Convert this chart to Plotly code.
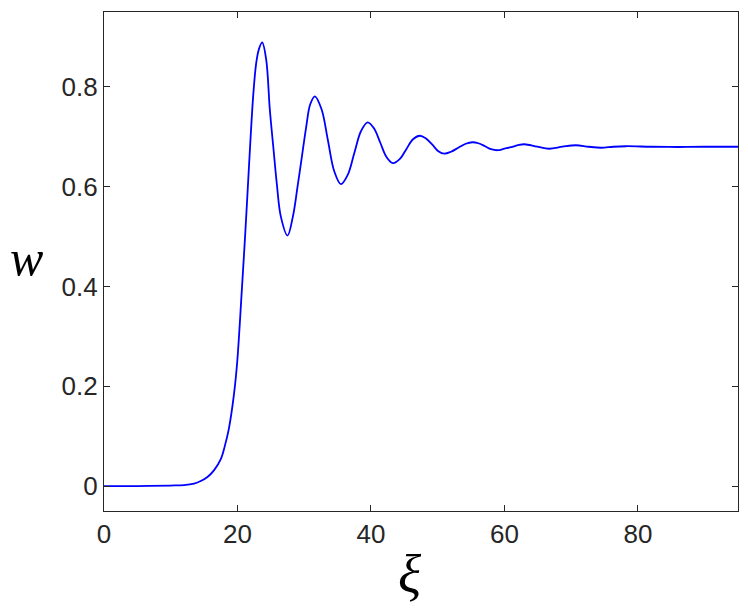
import plotly.graph_objects as go

# values
xi = [0, 5, 10, 12, 13.5, 14.5, 15.5, 16.5, 17.5, 18.1, 18.7, 19.45, 19.95,
      20.6, 21.2, 21.75, 22.35, 22.8, 23.2, 23.7, 24.3, 24.85, 25.4, 25.9,
      26.5, 27.5, 28.3, 29.0, 29.6, 30.3, 30.9, 31.6, 32.6, 33.55, 34.5, 35.5,
      36.5, 37.5, 38.5, 39.5, 40.45, 41.4, 42.35, 43.3, 44.3, 45.3, 46.3, 47.3,
      48.2, 49.2, 50.1, 51.0, 52.0, 53.1, 54.2, 55.2, 56.1, 57.1, 58.0, 59.0,
      60.0, 61.0, 62.0, 63.0, 64.9, 66.7, 68.7, 70.7, 72.6, 74.5, 76.3, 78.2,
      82, 86, 90, 95]
w = [0, 0, 0.001, 0.002, 0.005, 0.010, 0.018, 0.032, 0.054, 0.08, 0.114, 0.181,
     0.247, 0.381, 0.514, 0.647, 0.781, 0.847, 0.875, 0.889, 0.855, 0.754,
     0.675, 0.605, 0.54, 0.502, 0.54, 0.60, 0.655, 0.72, 0.765, 0.781, 0.755,
     0.693, 0.631, 0.605, 0.623, 0.667, 0.711, 0.729, 0.717, 0.688, 0.659,
     0.647, 0.655, 0.675, 0.695, 0.702, 0.697, 0.684, 0.671, 0.666, 0.670,
     0.678, 0.686, 0.689, 0.687, 0.681, 0.675, 0.673, 0.676, 0.679, 0.683,
     0.685, 0.680, 0.676, 0.680, 0.683, 0.680, 0.678, 0.680, 0.681, 0.680,
     0.6795, 0.680, 0.680]

x_ticks = [0, 20, 40, 60, 80]
y_ticks = [0, 0.2, 0.4, 0.6, 0.8]

AX = "#262626"
TICKFONT = dict(family="Liberation Sans, Arial, sans-serif", size=26, color=AX)

fig = go.Figure()
fig.add_scatter(
    x=xi, y=w, mode="lines",
    line=dict(color="#0000FF", width=1.8, shape="spline", smoothing=1.0),
    showlegend=False,
)

axis_common = dict(
    showgrid=False, zeroline=False, showline=True, linecolor=AX, linewidth=1.2,
    mirror="ticks", ticks="inside", ticklen=6, tickcolor=AX, tickwidth=1,
    tickfont=TICKFONT,
)
fig.update_xaxes(range=[0, 95], tickvals=x_ticks, **axis_common)
fig.update_yaxes(range=[-0.05, 0.95], tickvals=y_ticks, **axis_common)

serif = "Liberation Serif, Times New Roman, serif"
fig.add_annotation(text="<i>w</i>", xref="paper", yref="paper", x=0, y=0.5,
                   xanchor="center", yanchor="middle", xshift=-78, yshift=4,
                   showarrow=False, font=dict(family=serif, size=50, color="black"))
fig.add_annotation(text="<i>ξ</i>", xref="paper", yref="paper", x=0.483, y=0,
                   xanchor="center", yanchor="middle", yshift=-64, showarrow=False,
                   font=dict(family=serif, size=54, color="black"))

# the page body adds an 8px offset, so the figure is sized to fit the window
fig.update_layout(
    width=740, height=600,
    margin=dict(l=96, r=10, t=4, b=97),
    plot_bgcolor="white", paper_bgcolor="white",
)

fig.write_html("out.html")
